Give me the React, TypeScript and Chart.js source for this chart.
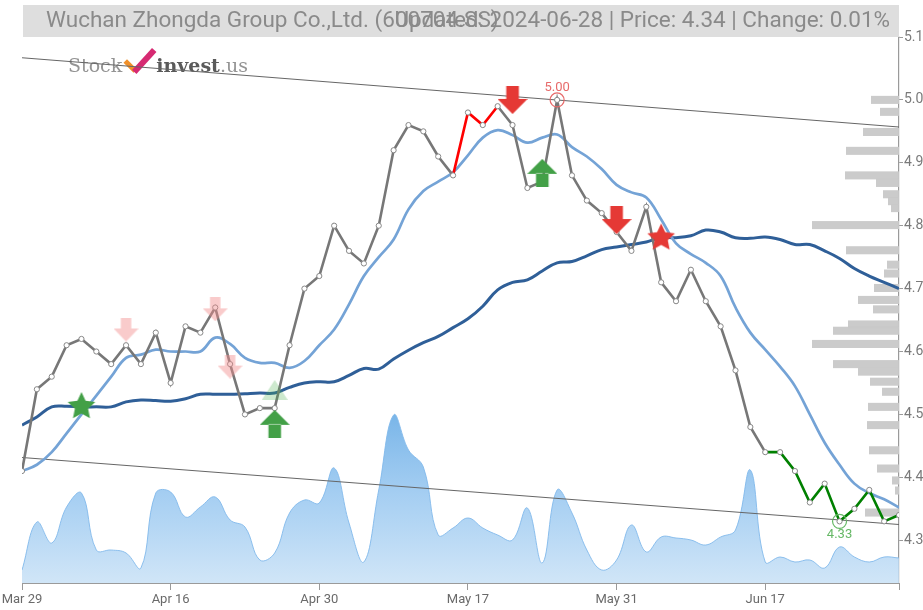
import React, { useEffect, useRef } from 'react';
import { Chart, registerables } from 'chart.js';

Chart.register(...registerables);

// ---------- data ----------
const titleText = 'Wuchan Zhongda Group Co.,Ltd. (600704.SS)';
const subtitleText = 'Updated: 2024-06-28 | Price: 4.34 | Change: 0.01%';

const closePrices = [
  4.41, 4.54, 4.56, 4.61, 4.62, 4.60, 4.58, 4.61, 4.58, 4.63,
  4.55, 4.64, 4.63, 4.67, 4.58, 4.50, 4.51, 4.51, 4.61, 4.70,
  4.72, 4.80, 4.76, 4.74, 4.80, 4.92, 4.96, 4.95, 4.91, 4.88,
  4.98, 4.96, 4.99, 4.96, 4.86, 4.87, 5.00, 4.88, 4.84, 4.82,
  4.79, 4.76, 4.83, 4.71, 4.68, 4.73, 4.68, 4.64, 4.57, 4.48,
  4.44, 4.44, 4.41, 4.36, 4.39, 4.33, 4.35, 4.38, 4.33, 4.34,
];

const maShort = [
  4.41, 4.42, 4.44, 4.47, 4.50, 4.53, 4.56, 4.59, 4.595, 4.603,
  4.60, 4.60, 4.60, 4.622, 4.612, 4.59, 4.582, 4.582, 4.574, 4.585,
  4.61, 4.635, 4.675, 4.72, 4.75, 4.778, 4.826, 4.855, 4.87, 4.885,
  4.912, 4.94, 4.952, 4.944, 4.932, 4.94, 4.945, 4.925, 4.91, 4.89,
  4.865, 4.853, 4.845, 4.81, 4.772, 4.755, 4.741, 4.72, 4.67, 4.63,
  4.603, 4.576, 4.545, 4.50, 4.455, 4.42, 4.39, 4.375, 4.365, 4.352,
];

const maLong = [
  4.483, 4.496, 4.512, 4.513, 4.512, 4.512, 4.512, 4.52, 4.523, 4.522,
  4.521, 4.525, 4.532, 4.532, 4.532, 4.533, 4.534, 4.534, 4.543, 4.55,
  4.552, 4.552, 4.562, 4.573, 4.572, 4.588, 4.602, 4.614, 4.624, 4.638,
  4.652, 4.672, 4.698, 4.71, 4.714, 4.728, 4.741, 4.743, 4.752, 4.762,
  4.766, 4.77, 4.774, 4.781, 4.781, 4.784, 4.793, 4.79, 4.781, 4.78,
  4.782, 4.778, 4.77, 4.77, 4.76, 4.748, 4.732, 4.72, 4.71, 4.70,
];

const volumes = [
  13, 61, 40, 76, 90, 33, 33, 30, 15, 90,
  91, 66, 76, 86, 63, 56, 23, 30, 70, 83,
  80, 115, 60, 21, 93, 168, 133, 116, 48, 55,
  65, 55, 48, 43, 75, 20, 93, 70, 33, 13,
  23, 58, 31, 46, 45, 43, 38, 46, 53, 113,
  21, 26, 21, 23, 15, 36, 26, 21, 26, 25,
];

const xTickIndex = [0, 10, 20, 30, 40, 50];
const xTickLabels = ['Mar 29', 'Apr 16', 'Apr 30', 'May 17', 'May 31', 'Jun 17'];
const yTickValues = [4.3, 4.4, 4.5, 4.6, 4.7, 4.8, 4.9, 5.0, 5.1];

const upperTrend = [5.067, 4.957];
const lowerTrend = [4.4315, 4.325];

const buyIdx = [17, 35];
const buyPrice = [4.485, 4.884];
const sellIdx = [33, 40];
const sellPrice = [5.0, 4.809];
const weakSellIdx = [7, 13, 14];
const weakSellPrice = [4.635, 4.667, 4.576];
const weakBuyIdx = [17];
const weakBuyPrice = [4.539];
const goldenStarIdx = [4];
const goldenStarPrice = [4.515];
const deathStarIdx = [43];
const deathStarPrice = [4.783];

const redStart = 29;
const redEnd = 32;
const greenStart = 50;

const profilePrices = [
  5.0, 4.981, 4.949, 4.919, 4.88, 4.868, 4.85, 4.839, 4.828, 4.801,
  4.761, 4.738, 4.724, 4.701, 4.682, 4.667, 4.643, 4.633, 4.612, 4.58,
  4.568, 4.552, 4.536, 4.512, 4.483, 4.443, 4.414, 4.395, 4.379, 4.344,
];
const profileVolumes = [
  28, 19, 36, 53, 54, 23, 16, 11, 8, 87,
  53, 12, 15, 25, 41, 26, 51, 66, 87, 66,
  41, 29, 17, 31, 32, 30, 22, 7, 4, 34,
];

// ---------- marker images ----------
function makeArrow(color: string, dir: 'up' | 'down', w: number, h: number) {
  const c = document.createElement('canvas');
  c.width = w;
  c.height = h;
  const g = c.getContext('2d')!;
  g.fillStyle = color;
  g.beginPath();
  const sw = w * 0.42;
  const sh = h * 0.46;
  if (dir === 'down') {
    g.rect((w - sw) / 2, 0, sw, sh + 0.5);
    g.moveTo(0, sh);
    g.lineTo(w, sh);
    g.lineTo(w / 2, h);
    g.closePath();
  } else {
    g.rect((w - sw) / 2, h - sh - 0.5, sw, sh + 0.5);
    g.moveTo(0, h - sh);
    g.lineTo(w, h - sh);
    g.lineTo(w / 2, 0);
    g.closePath();
  }
  g.fill();
  return c;
}

function makeStar(color: string, size: number) {
  const c = document.createElement('canvas');
  c.width = size;
  c.height = size;
  const g = c.getContext('2d')!;
  g.fillStyle = color;
  g.beginPath();
  const cx = size / 2;
  const cy = size / 2 + 1.5;
  const R = size / 2 - 0.5;
  const r = R * 0.48;
  for (let k = 0; k < 10; k++) {
    const a = -Math.PI / 2 + (k * Math.PI) / 5;
    const rad = k % 2 === 0 ? R : r;
    const px = cx + rad * Math.cos(a);
    const py = cy + rad * Math.sin(a);
    if (k === 0) g.moveTo(px, py);
    else g.lineTo(px, py);
  }
  g.closePath();
  g.fill();
  return c;
}

function makeTriangle(color: string, w: number, h: number) {
  const c = document.createElement('canvas');
  c.width = w;
  c.height = h;
  const g = c.getContext('2d')!;
  g.fillStyle = color;
  g.beginPath();
  g.moveTo(w / 2, 0);
  g.lineTo(w, h);
  g.lineTo(0, h);
  g.closePath();
  g.fill();
  return c;
}

const pts = (idx: number[], val: number[]) => idx.map((x, k) => ({ x, y: val[k] }));

// ---------- plugins ----------
const bgPlugin = {
  id: 'bg',
  beforeDraw(chart: any) {
    const c = chart.ctx;
    c.save();
    c.fillStyle = '#ffffff';
    c.fillRect(0, 0, chart.width, chart.height);
    c.restore();
  },
};

const headerPlugin = {
  id: 'header',
  afterDraw(chart: any) {
    const c = chart.ctx;
    const { left, right } = chart.chartArea;
    c.save();
    c.fillStyle = '#dedede';
    c.fillRect(left + 1, 5, right - left - 1, 32);
    c.font = '22.5px Roboto';
    c.fillStyle = '#8a8a8a';
    c.textBaseline = 'middle';
    c.textAlign = 'left';
    c.fillText(titleText, left + 24, 21.5);
    c.textAlign = 'right';
    c.fillText(subtitleText, right - 9, 21.5);
    c.restore();
  },
  beforeDatasetsDraw(chart: any) {
    const c = chart.ctx;
    c.save();
    c.textBaseline = 'alphabetic';
    c.textAlign = 'left';
    let x = 68;
    const base = 72;
    c.font = '19px "DejaVu Serif"';
    c.fillStyle = '#949494';
    c.fillText('Stock', x, base);
    x += c.measureText('Stock').width + 3;
    // check mark logo
    c.lineCap = 'butt';
    c.lineWidth = 5;
    c.strokeStyle = '#f0902a';
    c.beginPath();
    c.moveTo(x, base - 11);
    c.lineTo(x + 10, base - 1);
    c.stroke();
    c.lineWidth = 6;
    c.strokeStyle = '#d62a72';
    c.beginPath();
    c.moveTo(x + 9, base);
    c.lineTo(x + 29, base - 22);
    c.stroke();
    x += 31;
    c.font = 'bold 19px "DejaVu Serif"';
    c.fillStyle = '#5a5a5a';
    c.fillText('invest', x, base);
    x += c.measureText('invest').width;
    c.font = '19px "DejaVu Serif"';
    c.fillStyle = '#949494';
    c.fillText('.us', x, base);
    c.restore();
  },
};

const profilePlugin = {
  id: 'profile',
  beforeDatasetsDraw(chart: any) {
    const c = chart.ctx;
    const ys = chart.scales.y;
    const xs = chart.scales.xp;
    c.save();
    c.fillStyle = 'rgba(200,200,200,0.95)';
    profilePrices.forEach((p, k) => {
      const y0 = ys.getPixelForValue(p + 0.0064);
      const y1 = ys.getPixelForValue(p - 0.0064);
      const x0 = xs.getPixelForValue(profileVolumes[k]);
      const x1 = xs.getPixelForValue(0);
      c.fillRect(x0, y0, x1 - x0, y1 - y0);
    });
    c.restore();
  },
};

const extremesPlugin = {
  id: 'extremes',
  afterDatasetsDraw(chart: any) {
    const c = chart.ctx;
    const xs = chart.scales.x;
    const ys = chart.scales.y;
    const maxV = Math.max(...closePrices);
    const minV = Math.min(...closePrices);
    const hi = closePrices.indexOf(maxV);
    const lo = closePrices.indexOf(minV);
    c.save();
    c.lineWidth = 1.2;
    c.font = '13px Roboto';
    c.textAlign = 'center';
    let px = xs.getPixelForValue(hi);
    let py = ys.getPixelForValue(maxV);
    c.strokeStyle = '#e76a6a';
    c.beginPath();
    c.arc(px, py, 7, 0, Math.PI * 2);
    c.stroke();
    c.fillStyle = '#e76a6a';
    c.textBaseline = 'bottom';
    c.fillText(maxV.toFixed(2), px, py - 6);
    px = xs.getPixelForValue(lo);
    py = ys.getPixelForValue(minV);
    c.strokeStyle = '#66b866';
    c.beginPath();
    c.arc(px, py, 7, 0, Math.PI * 2);
    c.stroke();
    c.fillStyle = '#66b866';
    c.textBaseline = 'top';
    c.fillText(minV.toFixed(2), px, py + 7);
    c.restore();
  },
};

export default function App() {
  const ref = useRef<HTMLCanvasElement>(null);

  useEffect(() => {
    document.body.style.margin = '0';
    const canvas = ref.current!;

    const redArrow = makeArrow('rgb(229,57,53)', 'down', 30, 28);
    const greenArrow = makeArrow('rgb(67,160,71)', 'up', 30, 28);
    const pinkArrow = makeArrow('rgba(242,140,140,0.45)', 'down', 25, 24);
    const paleTri = makeTriangle('rgba(76,175,80,0.28)', 26, 20);
    const greenStar = makeStar('rgb(67,160,71)', 30);
    const redStar = makeStar('rgb(229,57,53)', 30);

    const marker = (data: any[], img: HTMLCanvasElement) => ({
      type: 'scatter' as const,
      data,
      yAxisID: 'y',
      xAxisID: 'x',
      pointStyle: img,
      pointRadius: 12,
      pointHoverRadius: 12,
      showLine: false,
      order: 0,
    });

    const chart = new Chart(canvas, {
      type: 'line',
      data: {
        datasets: [
          marker(pts(weakSellIdx, weakSellPrice), pinkArrow),
          marker(pts(weakBuyIdx, weakBuyPrice), paleTri),
          marker(pts(buyIdx, buyPrice), greenArrow),
          marker(pts(sellIdx, sellPrice), redArrow),
          marker(pts(goldenStarIdx, goldenStarPrice), greenStar),
          marker(pts(deathStarIdx, deathStarPrice), redStar),
          {
            type: 'line',
            label: 'Close',
            data: closePrices.map((y, x) => ({ x, y })),
            yAxisID: 'y',
            borderColor: '#777777',
            borderWidth: 2.6,
            tension: 0,
            pointRadius: 2.6,
            pointBackgroundColor: '#ffffff',
            pointBorderColor: '#888888',
            pointBorderWidth: 1,
            segment: {
              borderColor: (ctx: any) => {
                const i = ctx.p0DataIndex;
                if (i >= redStart && i < redEnd) return '#ff0000';
                if (i >= greenStart) return '#008000';
                return '#777777';
              },
            },
            order: 1,
          } as any,
          {
            type: 'line',
            label: 'MA short',
            data: maShort.map((y, x) => ({ x, y })),
            yAxisID: 'y',
            borderColor: '#74a3d6',
            borderWidth: 2.7,
            tension: 0.4,
            pointRadius: 0,
            order: 2,
          },
          {
            type: 'line',
            label: 'MA long',
            data: maLong.map((y, x) => ({ x, y })),
            yAxisID: 'y',
            borderColor: '#2f5f98',
            borderWidth: 3,
            tension: 0.4,
            pointRadius: 0,
            order: 3,
          },
          {
            type: 'line',
            label: 'Upper trend',
            data: [{ x: 0, y: upperTrend[0] }, { x: 59, y: upperTrend[1] }],
            yAxisID: 'y',
            borderColor: '#666666',
            borderWidth: 1.1,
            pointRadius: 0,
            order: 4,
          },
          {
            type: 'line',
            label: 'Lower trend',
            data: [{ x: 0, y: lowerTrend[0] }, { x: 59, y: lowerTrend[1] }],
            yAxisID: 'y',
            borderColor: '#666666',
            borderWidth: 1.1,
            pointRadius: 0,
            order: 4,
          },
          {
            type: 'line',
            label: 'Volume',
            data: volumes.map((y, x) => ({ x, y })),
            yAxisID: 'yv',
            borderColor: 'rgba(130,185,235,0.9)',
            borderWidth: 1,
            tension: 0.4,
            pointRadius: 0,
            fill: 'origin',
            backgroundColor: (ctx: any) => {
              const ch = ctx.chart;
              const area = ch.chartArea;
              if (!area) return 'rgba(124,181,236,0.6)';
              const g = ch.ctx.createLinearGradient(0, area.bottom - 175, 0, area.bottom);
              g.addColorStop(0, 'rgba(110,175,230,0.95)');
              g.addColorStop(0.5, 'rgba(150,198,240,0.85)');
              g.addColorStop(1, 'rgba(200,225,246,0.85)');
              return g;
            },
            order: 5,
          } as any,
        ],
      },
      options: {
        responsive: false,
        animation: false,
        devicePixelRatio: 1,
        layout: { padding: { left: 22, top: 37, right: 0, bottom: 0 } },
        plugins: {
          legend: { display: false },
          tooltip: { enabled: false },
          title: { display: false },
        },
        events: [],
        scales: {
          x: {
            type: 'linear',
            position: 'bottom',
            min: 0,
            max: 59,
            afterBuildTicks: (scale: any) => {
              scale.ticks = [...xTickIndex, 59].map((value) => ({ value }));
            },
            afterFit: (scale: any) => {
              scale.height = 27;
              scale.paddingLeft = 0;
              scale.paddingRight = 0;
            },
            grid: { drawOnChartArea: false, drawTicks: true, tickLength: 7, color: '#9a9a9a' },
            border: { display: true, color: '#9a9a9a', width: 1 },
            ticks: {
              autoSkip: false,
              maxRotation: 0,
              padding: 2,
              color: '#6a6a6a',
              font: { family: 'Roboto', size: 13 },
              callback: (v: any) => {
                const k = xTickIndex.indexOf(Number(v));
                return k >= 0 ? xTickLabels[k] : '';
              },
            },
          },
          y: {
            type: 'linear',
            position: 'right',
            min: 4.232,
            max: 5.1,
            afterBuildTicks: (scale: any) => {
              scale.ticks = yTickValues.map((value) => ({ value }));
            },
            afterFit: (scale: any) => {
              scale.width = 24;
            },
            grid: { drawOnChartArea: false, drawTicks: true, tickLength: 4, color: '#9a9a9a' },
            border: { display: true, color: '#9a9a9a', width: 1.2 },
            ticks: {
              padding: 1,
              color: '#7a7a7a',
              font: { family: 'Roboto', size: 14 },
              callback: (v: any) => Number(v).toFixed(1),
            },
          },
          yv: {
            type: 'linear',
            display: false,
            min: 0,
            max: 546,
          },
          xp: {
            type: 'linear',
            axis: 'x',
            display: false,
            min: 0,
            max: 877,
            reverse: true,
          },
        },
      } as any,
      plugins: [bgPlugin, headerPlugin, profilePlugin, extremesPlugin],
    });

    return () => chart.destroy();
  }, []);

  return (
    <div style={{ width: 923, height: 610 }}>
      <canvas ref={ref} width={923} height={610} style={{ display: 'block', width: 923, height: 610 }} />
    </div>
  );
}
